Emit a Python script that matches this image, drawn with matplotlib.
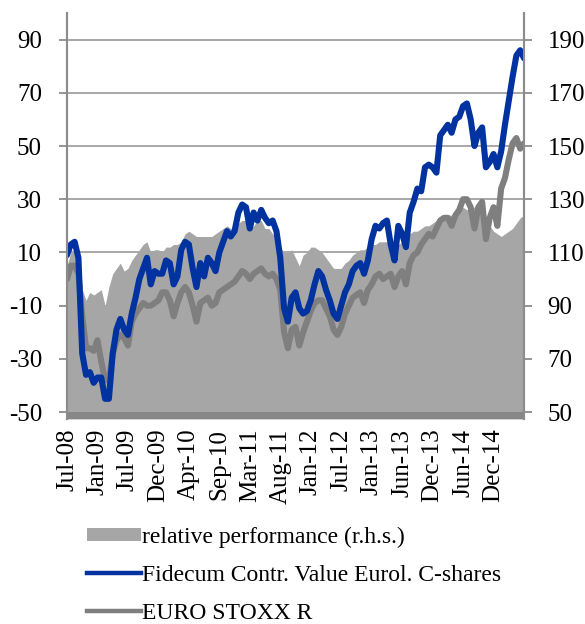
import numpy as np
import matplotlib
matplotlib.use("Agg")
import matplotlib.pyplot as plt
from matplotlib.patches import Patch
from matplotlib.lines import Line2D

plt.rcParams['font.family'] = ['Liberation Serif', 'DejaVu Serif']
plt.rcParams['axes.unicode_minus'] = False

# weekly index (every 3 weeks), Jul-08 .. May-15
weeks = np.arange(0, 361, 3)

fidecum = [9, 13, 14, 8, -28, -36, -35, -39, -37, -37,
           -45, -45, -28, -19, -15, -19, -21, -13, -7, 0,
           4, 8, -2, 3, 2, 2, 7, 6, -2, 1,
           11, 14, 13, 4, -3, 6, 1, 8, 6, 3,
           10, 14, 18, 16, 18, 25, 28, 27, 19, 25,
           22, 26, 23, 21, 22, 18, 8, -11, -16, -7,
           -5, -11, -13, -12, -8, -2, 3, 1, -4, -8,
           -13, -15, -10, -5, -2, 3, 5, 6, 2, 7,
           15, 20, 19, 21, 22, 13, 7, 20, 17, 12,
           25, 29, 34, 33, 42, 43, 42, 40, 54, 56,
           58, 55, 60, 61, 65, 66, 60, 50, 55, 57,
           42, 44, 47, 42, 48, 58, 67, 76, 84, 86, 83]

eurostoxx = [0, 5, 5, 2, -14, -26, -26, -27, -23, -31,
             -38, -38, -28, -23, -21, -22, -25, -16, -13, -11,
             -9, -10, -10, -9, -8, -5, -5, -8, -14, -9,
             -5, -3, -5, -10, -16, -9, -8, -7, -10, -9,
             -5, -4, -3, -2, -1, 1, 3, 2, 0, 2,
             3, 4, 2, 1, 2, 0, -4, -20, -26, -19,
             -18, -25, -20, -16, -12, -9, -8, -8, -11, -14,
             -19, -21, -18, -13, -10, -7, -6, -5, -9, -4,
             -2, 1, 2, 0, 1, 2, -3, 1, 3, -2,
             6, 9, 10, 13, 15, 17, 16, 19, 22, 23,
             23, 20, 24, 26, 30, 30, 27, 19, 27, 29,
             15, 23, 27, 20, 34, 38, 45, 51, 53, 49, 51]

relative = [105, 110, 110, 108, 96, 92, 95, 94, 95, 96,
            90, 97, 102, 104, 106, 103, 104, 107, 109, 111,
            113, 114, 110, 111, 111, 110, 112, 112, 113, 113,
            114, 117, 118, 117, 116, 116, 116, 116, 116, 117,
            118, 119, 120, 119, 119, 121, 122, 122, 119, 120,
            122, 122, 119, 119, 117, 115, 112, 110, 110, 111,
            108, 105, 109, 110, 112, 112, 111, 110, 108, 106,
            104, 104, 104, 106, 107, 109, 110, 111, 111, 112,
            113, 113, 114, 114, 114, 114, 113, 113, 114, 116,
            117, 118, 118, 119, 120, 120, 121, 122, 123, 124,
            124, 124, 125, 126, 127, 126, 127, 127, 127, 128,
            122, 120, 118, 117, 116, 117, 118, 119, 121, 123, 124]

tick_weeks = list(range(0, 337, 24))
tick_labels = ['Jul-08', 'Jan-09', 'Jul-09', 'Dec-09', 'Apr-10', 'Sep-10', 'Mar-11',
               'Aug-11', 'Jan-12', 'Jul-12', 'Jan-13', 'Jun-13', 'Dec-13', 'Jun-14', 'Dec-14']
left_ticks = [-50, -30, -10, 10, 30, 50, 70, 90]
right_ticks = [50, 70, 90, 110, 130, 150, 170, 190]

names = ['relative performance (r.h.s.)', 'Fidecum Contr. Value Eurol. C-shares', 'EURO STOXX R']

BLUE = '#0033a0'
GRAYLINE = '#7f7f80'
AREA = '#a6a6a6'
AXC = '#8c8c8c'
FS = 17
TFS = 18

fig = plt.figure(figsize=(5.85, 6.24), dpi=100)
ax2 = fig.add_axes([67/585, 1-419/624, (524-67)/585, (419-13)/624])
ax = ax2.twinx()

ylo, yhi = -52.6, 100
ax.set_ylim(ylo, yhi)
ax2.set_ylim(ylo + 100, yhi + 100)
ax2.set_xlim(0, 360)

# background axis (right): grid, area, band
ax2.set_axisbelow(True)
ax2.yaxis.grid(True, color='#9a9a9a', lw=1.2)
ax2.fill_between(weeks, ylo + 100, relative, color=AREA, lw=0, zorder=2)
ax2.axhspan(ylo + 100, 50, color='#878787', lw=0, zorder=3)

# lines on left axis
ax.set_zorder(ax2.get_zorder() + 1)
ax.patch.set_visible(False)
ax.plot(weeks, eurostoxx, color=GRAYLINE, lw=4.4, solid_joinstyle='round', solid_capstyle='round')
ax.plot(weeks, fidecum, color=BLUE, lw=4.4, solid_joinstyle='round', solid_capstyle='round')

ax.yaxis.tick_left()
ax2.yaxis.tick_right()
ax.set_yticks(left_ticks)
ax2.set_yticks(right_ticks)
ax.tick_params(axis='y', which='both', left=True, right=False, labelleft=True, labelright=False,
               length=6, width=1.3, color=AXC, pad=12, labelsize=TFS)
ax2.tick_params(axis='y', which='both', right=True, left=False, labelright=True, labelleft=False,
                length=6, width=1.3, color=AXC, pad=11, labelsize=TFS)

ax2.set_xticks(tick_weeks)
ax2.set_xticklabels(tick_labels, rotation=90, fontsize=TFS)
ax2.tick_params(axis='x', length=0, pad=7)

for a in (ax, ax2):
    for s in ['top', 'bottom']:
        a.spines[s].set_visible(False)
    a.spines['left'].set_color(AXC)
    a.spines['right'].set_color(AXC)
    a.spines['left'].set_linewidth(1.5)
    a.spines['right'].set_linewidth(1.5)

handles = [Patch(facecolor=AREA, edgecolor='none'),
           Line2D([], [], color=BLUE, lw=3.2),
           Line2D([], [], color=GRAYLINE, lw=3.2)]
fig.legend(handles, names, loc='upper left', bbox_to_anchor=(82/585, 1-522/624),
           frameon=False, fontsize=FS, handlelength=2.3, handleheight=0.5, handletextpad=0.05,
           labelspacing=0.72, borderaxespad=0, borderpad=0.2)

fig.savefig('out.png', dpi=100, facecolor='white')
